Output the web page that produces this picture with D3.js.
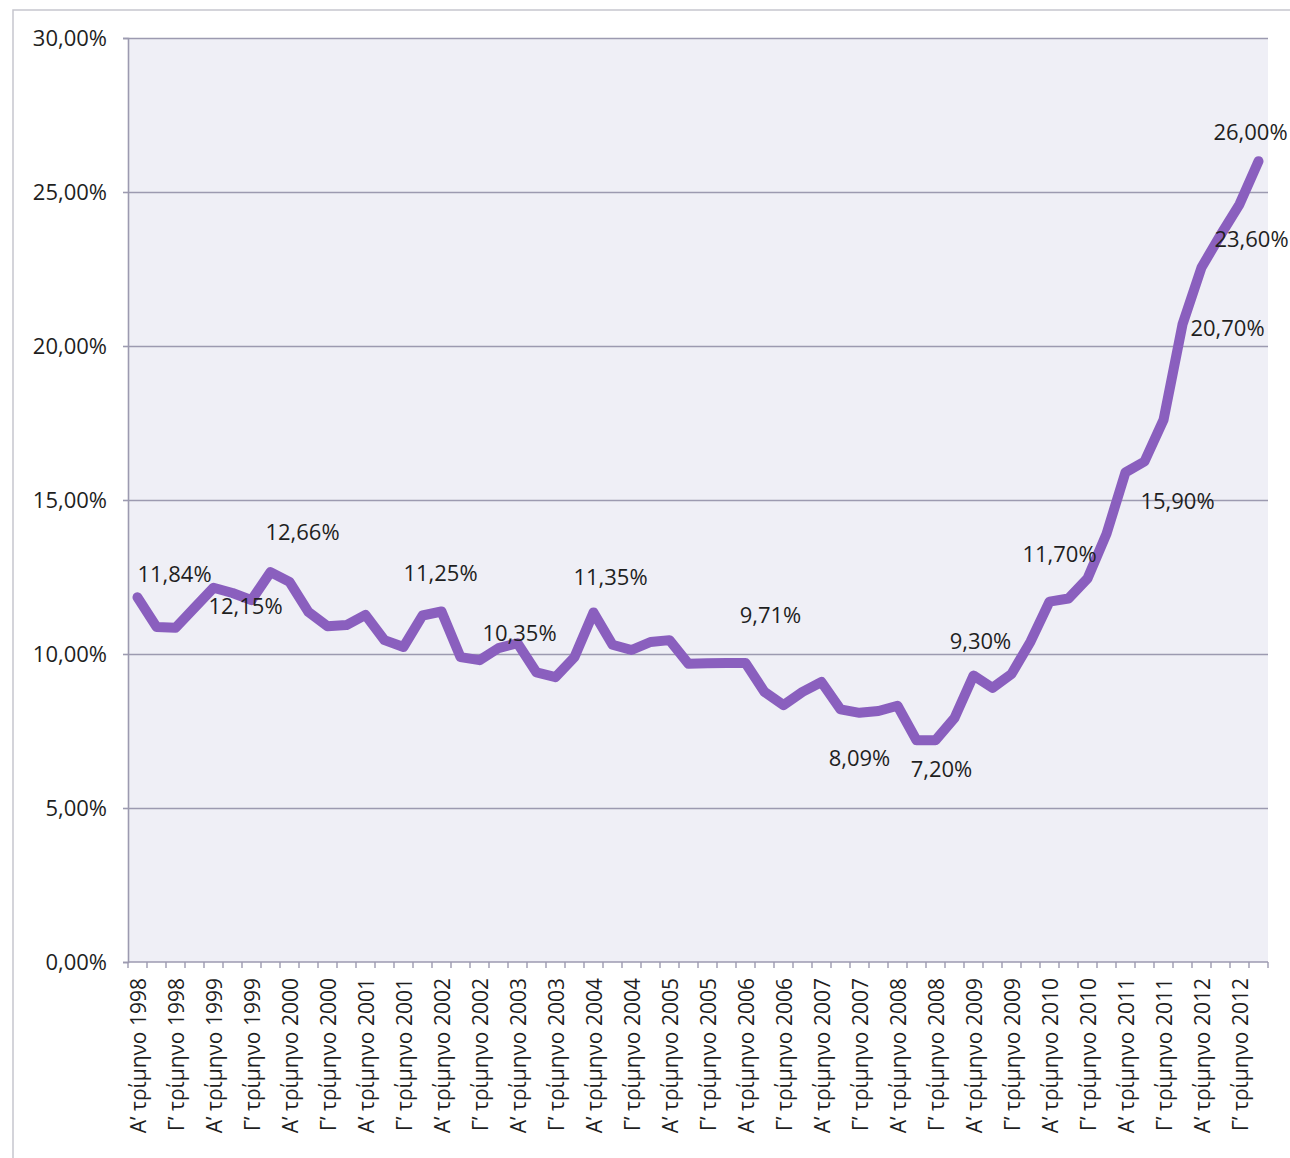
<!DOCTYPE html>
<html>
<head>
<meta charset="utf-8">
<script src="https://cdn.jsdelivr.net/npm/d3@7"></script>
<style>
  body { margin: 0; background: #fff; }
  text { font-family: "Open Sans", sans-serif; fill: #1f1f1f; }
</style>
</head>
<body>
<script>
// quarters 1998 - 2012
const years = [1998, 1999, 2000, 2001, 2002, 2003, 2004, 2005, 2006, 2007, 2008, 2009, 2010, 2011, 2012]
const quarterNames = ['Α’', 'Β’', 'Γ’', 'Δ’']
const categories = []
years.forEach(y => quarterNames.forEach(q => categories.push(q + ' τρίμηνο ' + y)))

// rate per quarter (%)
const values = [
  11.84, 10.88, 10.85, 11.50, 12.15, 11.98, 11.75, 12.66,
  12.34, 11.36, 10.90, 10.94, 11.27, 10.45, 10.23, 11.25,
  11.38,  9.90,  9.80, 10.19, 10.35,  9.40,  9.25,  9.90,
  11.35, 10.30, 10.13, 10.39, 10.45,  9.68,  9.70,  9.71,
   9.71,  8.77,  8.34,  8.77,  9.09,  8.20,  8.09,  8.15,
   8.32,  7.20,  7.20,  7.92,  9.30,  8.90,  9.35, 10.40,
  11.70, 11.80, 12.45, 13.90, 15.90, 16.25, 17.60, 20.70,
  22.55, 23.60, 24.60, 26.00
]

// which points carry a value label
const labeledPoints = [0, 4, 7, 15, 20, 24, 32, 38, 42, 44, 48, 52, 55, 57, 59]
// where each label sits relative to its point (layout only)
const labelOffsets = [[37, -24], [32, 17], [32, -41], [18, -44], [2, -11], [17, -36], [25, -49],
  [0, 44], [6, 28], [7, -36], [10, -49], [52, 28], [45, 3], [31, 3], [-8, -30]]

const yTicks = [0, 5, 10, 15, 20, 25, 30]

const margin = {top: 38, right: 22, bottom: 196, left: 128}
, width = 1290 - margin.left - margin.right
, height = 1158 - margin.top - margin.bottom

const gridColor = '#9c9ab0'

const svg = d3.select('body').append('svg')
    .attr('width', 1290)
    .attr('height', 1158)

// outer chart frame
svg.append('rect')
    .attr('x', 13).attr('y', 10)
    .attr('width', 1300).attr('height', 1200)
    .attr('fill', 'none')
    .attr('stroke', '#c6c6ce')
    .attr('stroke-width', 1.5)

const g = svg.append('g')
    .attr('transform', 'translate(' + margin.left + ',' + margin.top + ')')

const xScale = d3.scaleBand()
    .domain(categories)
    .range([0, width])

const yScale = d3.scaleLinear()
    .domain([0, 30])
    .range([height, 0])

// plot area
g.append('rect')
    .attr('width', width)
    .attr('height', height)
    .attr('fill', '#efeff6')

// gridlines
g.append('g')
    .call(d3.axisLeft(yScale).tickValues(yTicks.slice(1)).tickSize(-width).tickFormat(''))
    .call(a => a.select('.domain').remove())
    .selectAll('line')
    .attr('stroke', gridColor)
    .attr('stroke-width', 1.6)

// y axis
const yAxis = g.append('g')
    .call(d3.axisLeft(yScale)
        .tickValues(yTicks)
        .tickSize(5)
        .tickPadding(16)
        .tickFormat(d => d.toFixed(2).replace('.', ',') + '%'))
yAxis.select('.domain').attr('stroke', gridColor).attr('stroke-width', 1.6)
yAxis.selectAll('line').attr('stroke', gridColor).attr('stroke-width', 1.6)
yAxis.selectAll('text')
    .style('font-size', '22px')
    .attr('fill', '#1f1f1f')

// x axis: ticks on category boundaries, every second label
const xAxis = g.append('g')
    .attr('transform', 'translate(0,' + height + ')')
xAxis.append('line')
    .attr('x1', 0).attr('x2', width)
    .attr('stroke', gridColor).attr('stroke-width', 1.6)
xAxis.selectAll('.tick')
    .data(categories.concat(['end']))
    .enter()
    .append('line')
    .attr('x1', d => d === 'end' ? width : xScale(d))
    .attr('x2', d => d === 'end' ? width : xScale(d))
    .attr('y1', 0).attr('y2', 6)
    .attr('stroke', gridColor).attr('stroke-width', 1.4)
xAxis.selectAll('.xlabel')
    .data(categories.filter((d, i) => i % 2 === 0))
    .enter()
    .append('text')
    .attr('transform', d => 'translate(' + (xScale(d) + xScale.bandwidth() / 2) + ',16) rotate(-90)')
    .attr('text-anchor', 'end')
    .attr('dominant-baseline', 'central')
    .style('font-size', '21px')
    .text(d => d)

// the line
const line = d3.line()
    .x((d, i) => xScale(categories[i]) + xScale.bandwidth() / 2)
    .y(d => yScale(d))

g.append('path')
    .datum(values)
    .attr('d', line)
    .attr('fill', 'none')
    .attr('stroke', '#8a5fbe')
    .attr('stroke-width', 10)
    .attr('stroke-linejoin', 'round')
    .attr('stroke-linecap', 'round')

// data labels
g.selectAll('.dlabel')
    .data(labeledPoints)
    .enter()
    .append('text')
    .attr('x', (d, k) => xScale(categories[d]) + xScale.bandwidth() / 2 + labelOffsets[k][0])
    .attr('y', (d, k) => yScale(values[d]) + labelOffsets[k][1])
    .attr('text-anchor', 'middle')
    .attr('dominant-baseline', 'central')
    .style('font-size', '22px')
    .text(d => values[d].toFixed(2).replace('.', ',') + '%')
</script>
</body>
</html>
